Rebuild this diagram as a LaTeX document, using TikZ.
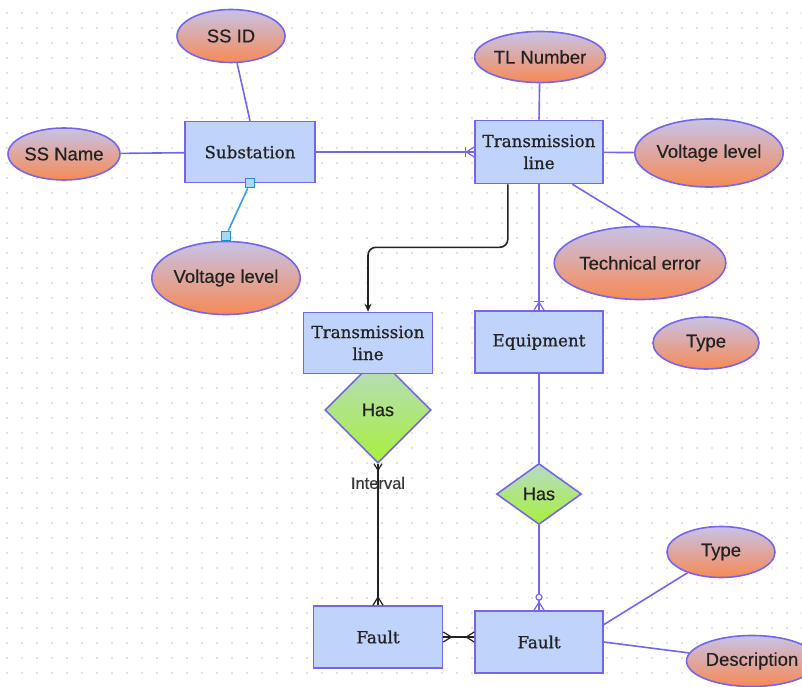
\documentclass[tikz,border=0pt]{standalone}
\usepackage{fontspec}
\setmainfont{Liberation Sans}
\newfontfamily\attrfont[FakeBold=0.4]{Liberation Sans}
\newfontfamily\entfont[FakeBold=0.7]{DejaVu Serif}
\usetikzlibrary{shapes.geometric,arrows.meta}

\definecolor{entfill}{HTML}{BFD3FB}
\definecolor{edge}{HTML}{7466EA}
\definecolor{attrtop}{HTML}{C6C3E8}
\definecolor{attrbot}{HTML}{F78A55}
\definecolor{reltop}{HTML}{B7DAC6}
\definecolor{relbot}{HTML}{A8F03C}
\definecolor{ink}{HTML}{222222}
\definecolor{dotc}{HTML}{C8C8C8}
\definecolor{linkblue}{HTML}{3C9BEA}
\definecolor{handlefill}{HTML}{A8D8F5}
\definecolor{handledraw}{HTML}{1E8FD5}

\begin{document}
\begin{tikzpicture}[x=1pt,y=-1pt,
  attr/.style={ellipse, draw=edge, line width=1.6pt, top color=attrtop,
    bottom color=attrbot, inner sep=0pt, text=ink,
    font=\attrfont\fontsize{18.5}{22}\selectfont},
  entity/.style={rectangle, draw=edge, line width=1.6pt, fill=entfill,
    inner sep=0pt, align=center, text=ink,
    font=\entfont\fontsize{16.7}{22}\selectfont},
  rel/.style={diamond, draw=edge, line width=1.6pt, top color=reltop,
    bottom color=relbot, inner sep=0pt, text=ink,
    font=\attrfont\fontsize{18}{22}\selectfont},
  link/.style={draw=edge, line width=1.6pt},
  darklink/.style={draw=ink, line width=1.6pt},
  handle/.style={rectangle, draw=handledraw, fill=handlefill, line width=1.1pt,
    minimum size=9pt, inner sep=0pt},
  crow/.pic={\draw[line width=1.2pt] (-8,0) -- (0,-5) (-8,0) -- (0,5);},
  onebar/.pic={\draw[line width=1.2pt] (-9,-5) -- (-9,5);},
  ring/.pic={\draw[line width=1.2pt, fill=white] (-13,0) circle[radius=3];}
]
% canvas and dotted grid
\fill[white] (0,0) rectangle (802,687);
\useasboundingbox (0,0) rectangle (802,687);
\clip (0,0) rectangle (802,687);
\foreach \i in {0,...,53}
  \foreach \j in {0,...,45}
    \fill[dotc] (7+15*\i,13+15*\j) circle[radius=0.9];

% relationships (drawn first so entities overlap them)
\node[rel, minimum width=106pt, minimum height=106pt] (has1) at (378,410) {Has};
\node[rel, minimum width=85pt, minimum height=61pt] (has2) at (539,494) {Has};

% entities
\node[entity, minimum width=130pt, minimum height=61pt] (sub) at (250,152) {Substation};
\node[entity, minimum width=128pt, minimum height=63pt] (tl) at (539,152) {Transmission\\line};
\node[entity, minimum width=129pt, minimum height=61pt] (tl2) at (368,343) {Transmission\\line};
\node[entity, minimum width=128pt, minimum height=62pt] (equip) at (539,342) {Equipment};
\node[entity, minimum width=129pt, minimum height=62pt] (f1) at (378,637) {Fault};
\node[entity, minimum width=128pt, minimum height=62pt] (f2) at (539,642) {Fault};

% attributes
\node[attr, minimum width=108pt, minimum height=53pt] (ssid) at (231,36) {SS ID};
\node[attr, minimum width=107pt, minimum height=52pt] (ssname) at (64,154) {SS Name};
\node[attr, minimum width=128pt, minimum height=73pt] (vll) at (226,278) {Voltage level};
\node[attr, minimum width=107pt, minimum height=51pt] (tlnum) at (540,57) {TL Number};
\node[attr, minimum width=132pt, minimum height=68pt] (vlr) at (709,153) {Voltage level};
\node[attr, minimum width=143pt, minimum height=73pt] (tech) at (640,263) {Technical error};
\node[attr, minimum width=106pt, minimum height=52pt] (typem) at (706,343) {Type};
\node[attr, minimum width=108pt, minimum height=51pt] (typeb) at (721,552) {Type};
\node[attr, minimum width=104pt, minimum height=51pt] (desc) at (752,661) {Description};

% attribute links
\draw[link] (ssid) -- (sub.north);
\draw[link] (ssname) -- (sub);
\draw[link] (tlnum) -- (tl.north);
\draw[link] (vlr) -- (tl);
\draw[link] (tl.-44) -- (tech.north);
\draw[link] (f2.15) -- (typeb);
\draw[link] (f2.east) -- (desc);

% substation voltage link with handles
\node[handle] (h1) at (sub.south) {};
\node[handle, anchor=south] (h2) at (vll.north) {};
\draw[draw=linkblue, line width=1.6pt] (h1) -- (h2);

% substation to transmission line (one or many)
\draw[link] (sub.east) -- (tl.west);
\pic[color=edge] at (tl.west) {crow};
\pic[color=edge] at (tl.west) {onebar};

% transmission line to equipment (one or many)
\draw[link] (tl.south) -- (equip.north);
\pic[color=edge, rotate=-90] at (equip.north) {crow};
\pic[color=edge, rotate=-90] at (equip.north) {onebar};

% equipment has fault (zero or many)
\draw[link] (equip.south) -- (has2.north);
\draw[link] (has2.south) -- (f2.north);
\pic[color=edge, rotate=-90] at (f2.north) {crow};
\pic[color=edge, rotate=-90] at (f2.north) {ring};

% transmission line branch
\draw[darklink, rounded corners=8pt, -{Stealth[length=8pt,width=7pt]}]
  (tl.-134) -- ++(0,63) -| (tl2.north);

% interval link
\draw[darklink] (has1.south) -- (f1.north);
\pic[color=ink, rotate=90, scale=0.8] at (has1.south) {crow};
\pic[color=ink, rotate=-90] at (f1.north) {crow};
\node[text=ink!90, font=\attrfont\fontsize{16.5}{20}\selectfont] (interval) at (378,483) {Interval};

% fault to fault (many to many)
\coordinate (f2w) at (f2.west |- f1.east);
\draw[darklink] (f1.east) -- (f2w);
\pic[color=ink, rotate=180] at (f1.east) {crow};
\pic[color=ink] at (f2w) {crow};
\end{tikzpicture}
\end{document}
